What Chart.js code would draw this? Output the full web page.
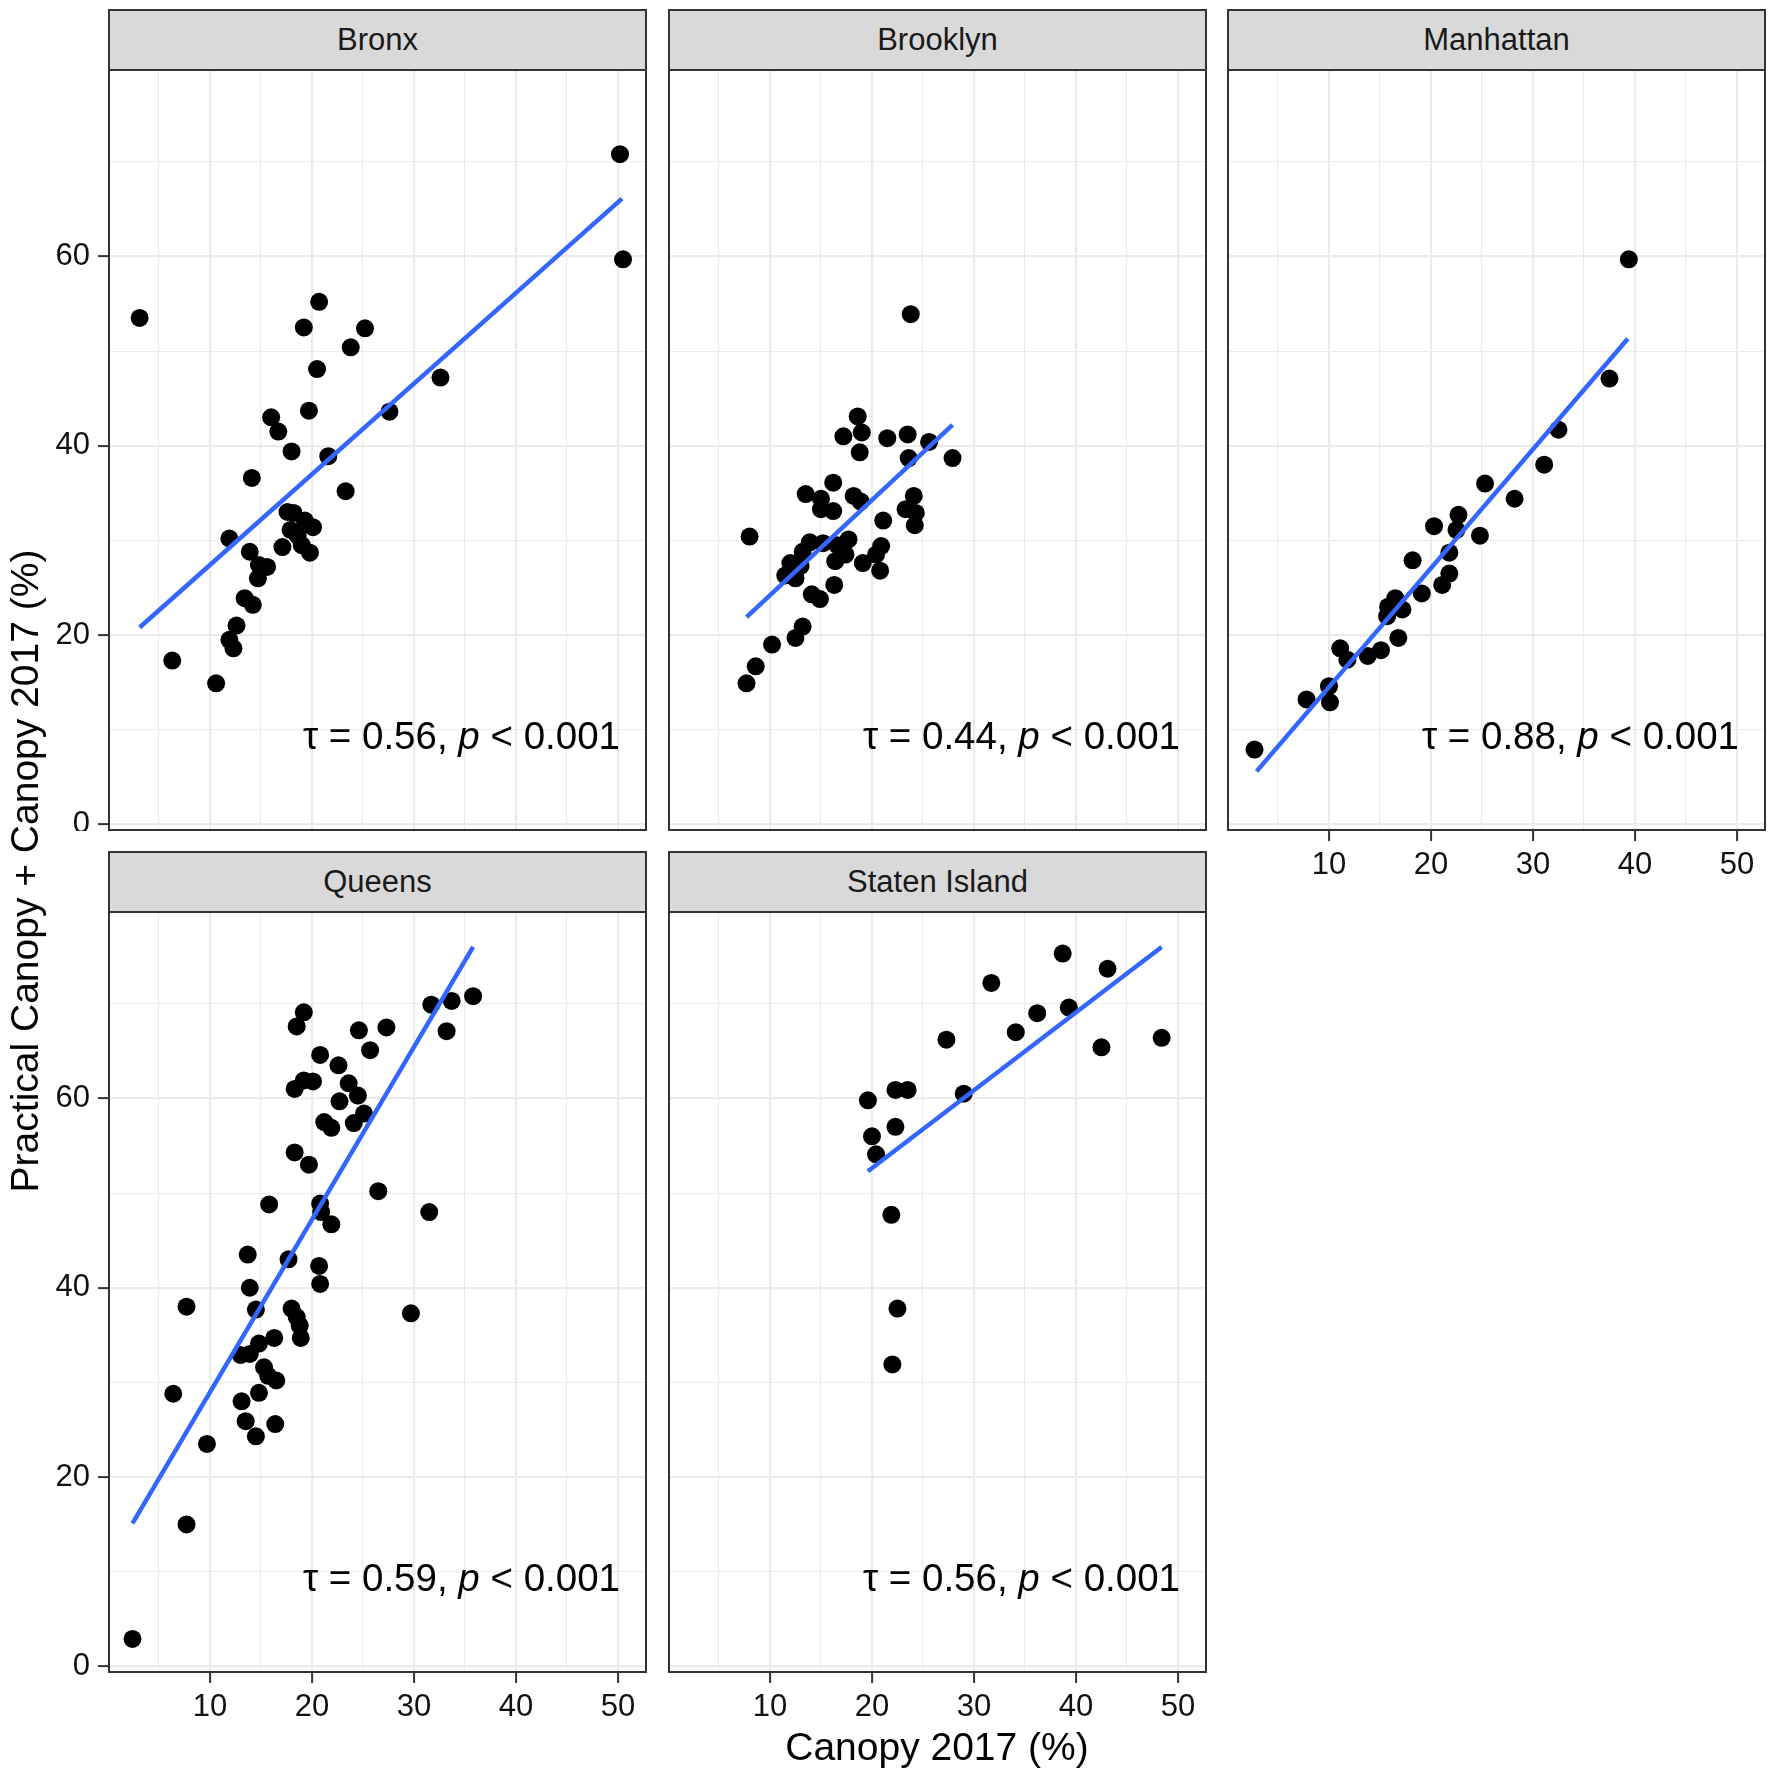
<!DOCTYPE html>
<html lang="en">
<head>
<meta charset="UTF-8">
<title>Canopy 2017 by borough</title>
<script src="https://cdn.jsdelivr.net/npm/chart.js@4.4.1/dist/chart.umd.min.js"></script>
<style>
    body { margin: 0; background: #fff; }
    #page { position: relative; width: 1772px; height: 1779px; font-family: "Liberation Sans", Arial, sans-serif; }
    .strip { position: absolute; box-sizing: border-box; border: 2px solid #333; background: #d9d9d9;
             color: #1a1a1a; font-size: 31px; text-align: center; }
    .box { position: absolute; }
    .title { position: absolute; font-size: 39px; color: #000; text-align: center; white-space: nowrap; }
</style>
</head>
<body>
<div id="page"></div>
<script>
    'use strict';

    // borough names (facet strips) and Kendall tau labels
    var boroughs = ['Bronx', 'Brooklyn', 'Manhattan', 'Queens', 'Staten Island'];
    var tauLabels = ['0.56', '0.44', '0.88', '0.59', '0.56'];

    // x = Canopy 2017 (%), y = Practical Canopy + Canopy 2017 (%)
    var bronxX = [3.1, 50.2, 50.5, 20.7, 19.2, 25.2, 23.8, 20.5, 32.6, 19.7, 27.6, 16.0, 16.7, 18.0, 21.6, 14.1, 23.3, 17.6, 18.2,
        19.3, 20.1, 17.9, 18.6, 19.0, 17.1, 19.8, 11.9, 13.9, 14.8, 15.6, 14.7, 13.4, 14.2, 12.6, 11.9, 12.3, 6.3, 10.6];
    var bronxY = [53.5, 70.8, 59.7, 55.2, 52.5, 52.4, 50.4, 48.1, 47.2, 43.7, 43.6, 43.0, 41.5, 39.4, 38.9, 36.6, 35.2, 33.0, 32.9,
        32.1, 31.4, 31.1, 30.5, 29.5, 29.3, 28.7, 30.2, 28.8, 27.4, 27.2, 26.0, 23.9, 23.2, 21.0, 19.5, 18.6, 17.3, 14.9];

    var brooklynX = [23.8, 18.6, 17.2, 19.0, 21.5, 23.5, 18.8, 25.6, 23.6, 27.9, 16.2, 13.5, 15.0, 18.2, 18.9, 24.1, 15.0, 16.2,
        23.3, 24.3, 24.2, 21.1, 8.0, 13.9, 15.2, 17.7, 16.6, 13.2, 20.9, 17.4, 20.4, 12.0, 13.0, 16.4, 19.1, 11.5, 12.5, 20.8,
        16.3, 14.1, 14.9, 13.2, 12.5, 10.2, 8.6, 7.7];
    var brooklynY = [53.9, 43.1, 41.0, 41.4, 40.8, 41.2, 39.3, 40.4, 38.7, 38.7, 36.1, 34.9, 34.4, 34.7, 34.1, 34.7, 33.3, 33.1,
        33.3, 32.9, 31.6, 32.1, 30.4, 29.8, 29.7, 30.1, 29.5, 28.8, 29.4, 28.5, 28.5, 27.6, 27.3, 27.8, 27.6, 26.3, 26.0, 26.8,
        25.3, 24.3, 23.8, 20.9, 19.7, 19.0, 16.7, 14.9];

    var manhattanX = [2.7, 39.4, 37.5, 32.5, 31.1, 25.3, 28.2, 22.7, 22.5, 20.3, 24.8, 21.8, 18.2, 21.8, 21.1, 19.1, 16.5, 15.8,
        17.2, 15.7, 16.8, 15.1, 13.8, 11.1, 11.8, 10.0, 7.8, 10.1];
    var manhattanY = [7.9, 59.7, 47.1, 41.7, 38.0, 36.0, 34.4, 32.7, 31.1, 31.5, 30.5, 28.7, 27.9, 26.5, 25.3, 24.4, 23.9, 23.0,
        22.7, 22.0, 19.7, 18.4, 17.8, 18.6, 17.4, 14.6, 13.2, 12.9];

    var queensX = [2.4, 7.7, 9.7, 6.4, 7.7, 13.7, 13.9, 14.5, 15.8, 17.7, 18.0, 18.5, 18.8, 18.9, 13.0, 13.9, 14.8, 16.3, 15.3,
        15.7, 16.5, 14.8, 13.1, 13.5, 16.4, 14.5, 19.2, 18.5, 24.6, 27.3, 25.7, 20.8, 22.6, 19.2, 20.1, 18.3, 23.6, 24.5, 22.7,
        25.1, 24.1, 21.2, 21.9, 18.3, 19.7, 26.5, 20.8, 20.9, 21.9, 31.5, 20.7, 20.8, 29.7, 31.7, 33.7, 35.8, 33.2];
    var queensY = [2.9, 15.0, 23.5, 28.8, 38.0, 43.5, 40.0, 37.7, 48.8, 43.0, 37.8, 36.9, 36.0, 34.7, 32.9, 33.0, 34.1, 34.7, 31.6,
        30.7, 30.2, 28.9, 28.0, 25.9, 25.6, 24.3, 69.1, 67.6, 67.2, 67.5, 65.1, 64.6, 63.5, 61.9, 61.8, 61.0, 61.6, 60.3, 59.7,
        58.4, 57.4, 57.5, 56.9, 54.3, 53.0, 50.2, 48.9, 48.0, 46.7, 48.0, 42.3, 40.4, 37.3, 69.9, 70.3, 70.8, 67.1];

    var statenX = [38.7, 31.7, 43.1, 39.3, 36.2, 34.1, 27.3, 42.5, 48.4, 29.0, 19.6, 22.3, 23.5, 20.0, 22.3, 20.4, 21.9, 22.5, 22.0];
    var statenY = [75.3, 72.2, 73.7, 69.6, 69.0, 67.0, 66.2, 65.4, 66.4, 60.5, 59.8, 60.9, 60.9, 56.0, 57.0, 54.1, 47.7, 37.8, 31.9];

    // linear fit end points
    var fitX = [[3.1, 50.4], [7.7, 27.9], [2.9, 39.3], [2.4, 35.8], [19.6, 48.4]];
    var fitY = [[20.8, 66.1], [21.9, 42.2], [5.6, 51.3], [15.1, 76.0], [52.3, 76.0]];

    // axis ticks (grid) and the ones that carry labels
    var xGrid = [5, 10, 15, 20, 25, 30, 35, 40, 45, 50];
    var xLabels = [10, 20, 30, 40, 50];
    var yGrid = [0, 10, 20, 30, 40, 50, 60, 70];
    var yLabels = [0, 20, 40, 60];

    var seriesX = [bronxX, brooklynX, manhattanX, queensX, statenX];
    var seriesY = [bronxY, brooklynY, manhattanY, queensY, statenY];

    // panel geometry (pixels of the page)
    var colLeft = [108, 668, 1227];
    var rowTop = [69, 911];
    var panelW = 539, panelH = 762, stripH = 60;
    var yAxisW = 108, xAxisH = 70;

    var FONT = '"Liberation Sans", Arial, sans-serif';
    var page = document.getElementById('page');

    function zip(xs, ys) {
        return xs.map(function (x, i) { return {x: x, y: ys[i]}; });
    }

    // panel border, like theme_bw
    var borderPlugin = {
        id: 'panelBorder',
        afterDraw: function (chart) {
            var a = chart.chartArea, c = chart.ctx;
            c.save();
            c.strokeStyle = '#333';
            c.lineWidth = 2;
            c.strokeRect(a.left + 1, a.top + 1, a.right - a.left - 2, a.bottom - a.top - 2);
            c.restore();
        }
    };

    // "τ = 0.56, p < 0.001" with italic p
    var corrPlugin = {
        id: 'corrLabel',
        afterDatasetsDraw: function (chart, args, opts) {
            var c = chart.ctx;
            var px = chart.scales.x.getPixelForValue(opts.x);
            var py = chart.scales.y.getPixelForValue(opts.y);
            var parts = [
                {t: '\u03c4 = ' + opts.tau + ', ', f: '38.5px ' + FONT},
                {t: 'p', f: 'italic 38.5px ' + FONT},
                {t: ' < 0.001', f: '38.5px ' + FONT}
            ];
            c.save();
            c.fillStyle = '#000';
            c.textBaseline = 'alphabetic';
            var total = 0;
            parts.forEach(function (p) { c.font = p.f; p.w = c.measureText(p.t).width; total += p.w; });
            var x = px - total;
            parts.forEach(function (p) { c.font = p.f; c.fillText(p.t, x, py); x += p.w; });
            c.restore();
        }
    };

    function makePanel(i) {
        var col = i % 3, row = Math.floor(i / 3);
        var left = col === 0;
        var bottom = (row === 1) || (i === 2);
        var L = colLeft[col], T = rowTop[row];

        // strip
        var s = document.createElement('div');
        s.className = 'strip';
        s.style.left = L + 'px';
        s.style.top = (T - stripH) + 'px';
        s.style.width = panelW + 'px';
        s.style.height = (stripH + 2) + 'px';
        s.style.lineHeight = (stripH - 2) + 'px';
        s.textContent = boroughs[i];
        page.appendChild(s);

        var w = panelW + (left ? yAxisW : 0);
        var h = panelH + (bottom ? xAxisH : 0);
        var box = document.createElement('div');
        box.className = 'box';
        box.style.left = (L - (left ? yAxisW : 0)) + 'px';
        box.style.top = T + 'px';
        box.style.width = w + 'px';
        box.style.height = h + 'px';
        var cv = document.createElement('canvas');
        box.appendChild(cv);
        page.appendChild(box);

        function fixX(scale) {
            scale.height = bottom ? xAxisH : 0;
            scale.paddingLeft = 0; scale.paddingRight = 0; scale.paddingTop = 0; scale.paddingBottom = 0;
        }
        function fixY(scale) {
            scale.width = left ? yAxisW : 0;
            scale.paddingLeft = 0; scale.paddingRight = 0; scale.paddingTop = 0; scale.paddingBottom = 0;
        }

        return new Chart(cv, {
            type: 'scatter',
            data: {
                datasets: [{
                    type: 'line',
                    data: zip(fitX[i], fitY[i]),
                    borderColor: '#3366FF',
                    borderWidth: 4.5,
                    pointRadius: 0,
                    fill: false,
                    order: 0
                }, {
                    data: zip(seriesX[i], seriesY[i]),
                    backgroundColor: '#000',
                    borderWidth: 0,
                    pointRadius: 9,
                    order: 1
                }]
            },
            options: {
                responsive: true,
                maintainAspectRatio: false,
                animation: false,
                events: [],
                layout: {padding: 0, autoPadding: false},
                plugins: {
                    legend: {display: false},
                    tooltip: {enabled: false},
                    corrLabel: {tau: tauLabels[i], x: 50.2, y: 8.0}
                },
                scales: {
                    x: {
                        type: 'linear',
                        min: 0,
                        max: 52.85,
                        afterBuildTicks: function (sc) { sc.ticks = xGrid.map(function (v) { return {value: v}; }); },
                        afterFit: fixX,
                        border: {display: false},
                        grid: {
                            color: '#ebebeb',
                            lineWidth: function (ctx) { return ctx.tick && xLabels.indexOf(ctx.tick.value) >= 0 ? 2.2 : 1.1; },
                            drawTicks: bottom,
                            tickLength: 10,
                            tickWidth: 2,
                            tickColor: function (ctx) { return ctx.tick && xLabels.indexOf(ctx.tick.value) >= 0 ? '#333' : 'rgba(0,0,0,0)'; }
                        },
                        ticks: {
                            display: bottom,
                            autoSkip: false,
                            maxRotation: 0,
                            minRotation: 0,
                            padding: 6,
                            color: '#111',
                            font: {family: FONT, size: 31},
                            callback: function (v) { return xLabels.indexOf(v) >= 0 ? String(v) : ''; }
                        }
                    },
                    y: {
                        type: 'linear',
                        min: -0.7,
                        max: 79.8,
                        afterBuildTicks: function (sc) { sc.ticks = yGrid.map(function (v) { return {value: v}; }); },
                        afterFit: fixY,
                        border: {display: false},
                        grid: {
                            color: '#ebebeb',
                            lineWidth: function (ctx) { return ctx.tick && yLabels.indexOf(ctx.tick.value) >= 0 ? 2.2 : 1.1; },
                            drawTicks: left,
                            tickLength: 10,
                            tickWidth: 2,
                            tickColor: function (ctx) { return ctx.tick && yLabels.indexOf(ctx.tick.value) >= 0 ? '#333' : 'rgba(0,0,0,0)'; }
                        },
                        ticks: {
                            display: left,
                            padding: 8,
                            color: '#111',
                            font: {family: FONT, size: 31},
                            callback: function (v) { return yLabels.indexOf(v) >= 0 ? String(v) : ''; }
                        }
                    }
                }
            },
            plugins: [borderPlugin, corrPlugin]
        });
    }

    for (var i = 0; i < boroughs.length; i++) {
        makePanel(i);
    }

    // axis titles
    var xt = document.createElement('div');
    xt.className = 'title';
    xt.style.left = colLeft[0] + 'px';
    xt.style.width = (colLeft[2] + panelW - colLeft[0]) + 'px';
    xt.style.top = '1722px';
    xt.style.lineHeight = '50px';
    xt.textContent = 'Canopy 2017 (%)';
    page.appendChild(xt);

    var yt = document.createElement('div');
    yt.className = 'title';
    yt.style.left = (25 - 450) + 'px';
    yt.style.top = (871 - 25) + 'px';
    yt.style.width = '900px';
    yt.style.lineHeight = '50px';
    yt.style.transform = 'rotate(-90deg)';
    yt.textContent = 'Practical Canopy + Canopy 2017 (%)';
    page.appendChild(yt);
</script>
</body>
</html>
